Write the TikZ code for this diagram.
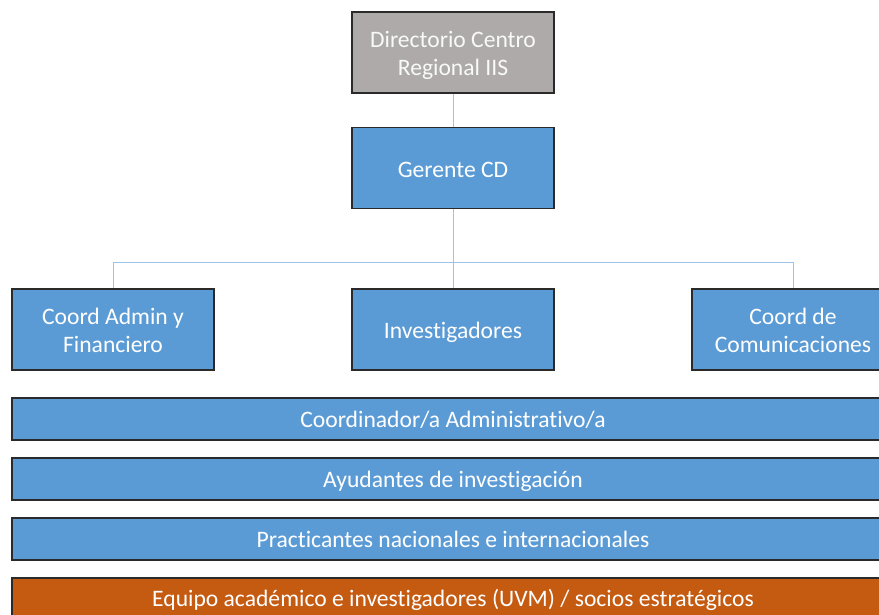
\documentclass[tikz,border=0pt]{standalone}
\usepackage{fontspec}
\setmainfont{Carlito}[Ligatures=NoCommon]
\definecolor{boxblue}{HTML}{5B9BD5}
\definecolor{boxgray}{HTML}{AEAAAA}
\definecolor{boxorange}{HTML}{C55A11}
\definecolor{linkblue}{HTML}{9DC3E6}
\definecolor{edge}{HTML}{2A2A2A}
\newcommand{\lowr}[2]{\raisebox{-#1}[\height][\depth]{#2}}
\begin{document}
\begin{tikzpicture}[x=1pt,y=-1pt,
  orgbox/.style={draw=edge, line width=1.1pt, fill=boxblue, text=white,
    minimum width=202pt, minimum height=81pt, inner sep=0pt, align=center,
    font=\fontsize{23.6}{28.5}\selectfont},
  bar/.style={orgbox, minimum width=882pt, minimum height=42pt},
  link/.style={draw=linkblue, line width=1pt}]
\useasboundingbox (0,0) rectangle (879,614);
\clip (0,0) rectangle (879,614);
\node[orgbox, fill=boxgray, text=white!95!gray] (dir) at (453,52.5) {\lowr{3pt}{Directorio Centro}\\\lowr{3pt}{Regional IIS}};
\node[orgbox] (ger) at (453,168) {\lowr{2pt}{Gerente CD}};
\node[orgbox] (adm) at (113,329.5) {\lowr{1pt}{Coord Admin y}\\\lowr{1pt}{Financiero}};
\node[orgbox] (inv) at (453,329.5) {\lowr{3pt}{Investigadores}};
\node[orgbox] (com) at (793,329.5) {\lowr{1pt}{Coord de}\\\lowr{1pt}{Comunicaciones}};
\node[bar] (b1) at (453,419) {\lowr{1pt}{Coordinador/a Administrativo/a}};
\node[bar] (b2) at (453,479) {\lowr{2pt}{Ayudantes de investigación}};
\node[bar] (b3) at (453,539) {Practicantes nacionales e internacionales};
\node[bar, fill=boxorange, minimum height=44pt] (b4) at (453,600) {\raisebox{1pt}{Equipo académico e investigadores (UVM) / socios estratégicos}};
\coordinate (hub) at (453,262);
\draw[link] (dir.south) -- (ger.north);
\draw[link] (ger.south) -- (hub);
\draw[link] (hub) -| (adm.north);
\draw[link] (hub) -| (com.north);
\draw[link] (hub) -- (inv.north);
\end{tikzpicture}
\end{document}
